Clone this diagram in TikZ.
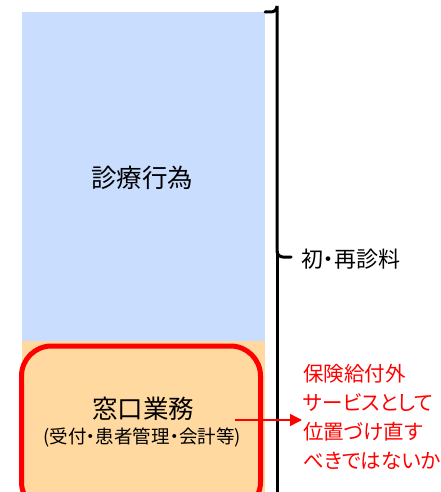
\documentclass[tikz,border=0pt]{standalone}
\usepackage{fontspec}
\setmainfont[RawFeature=+palt]{Noto Sans CJK JP}
\usetikzlibrary{arrows.meta}
\definecolor{bluefill}{RGB}{201,222,255}
\definecolor{orangefill}{RGB}{255,217,160}
\definecolor{redline}{RGB}{255,0,0}
\begin{document}
\begin{tikzpicture}[x=1pt,y=-1pt,
  lbl/.style={inner sep=0pt, font=\fontsize{25.5}{30}\selectfont},
  redtxt/.style={inner sep=0pt, align=left, text=redline, font=\fontsize{20.5}{29}\selectfont}]
\useasboundingbox (0,0) rectangle (441,492);
\begin{scope}
\clip (0,0) rectangle (441,492);
\fill[bluefill] (22,12) rectangle (265,341);
\fill[orangefill] (22,341) rectangle (265,492);
\draw[redline, line width=5pt, rounded corners=30pt] (21.5,346) rectangle (260.5,512);
% brace
\draw[line width=3pt, line cap=round] (265,12) -- (271,12) arc[start angle=90, end angle=0, radius=6] -- (277,251)
  arc[start angle=180, end angle=90, radius=6] -- (291,257);
\draw[line width=3pt] (277,251) -- (277,500);
\end{scope}
\node[lbl] (diag) at (142,178) {診療行為};
\node[lbl] (mado) at (143,409) {窓口業務};
\node[inner sep=0pt, font=\fontsize{18.5}{22}\selectfont] (sub) at (142,437) {(受付・患者管理・会計等)};
\node[inner sep=0pt, anchor=west, font=\fontsize{22}{26}\selectfont] (fee) at (301,259) {初・再診料};
\node[redtxt, anchor=north west] (note) at (303,364) {保険給付外\\サービスとして\\位置づけ直す\\べきではないか};
\coordinate (astart) at (235,420);
\draw[redline, line width=1.5pt, -{Triangle[length=12pt,width=12pt]}] (astart) -- (302,420);
\end{tikzpicture}
\end{document}
